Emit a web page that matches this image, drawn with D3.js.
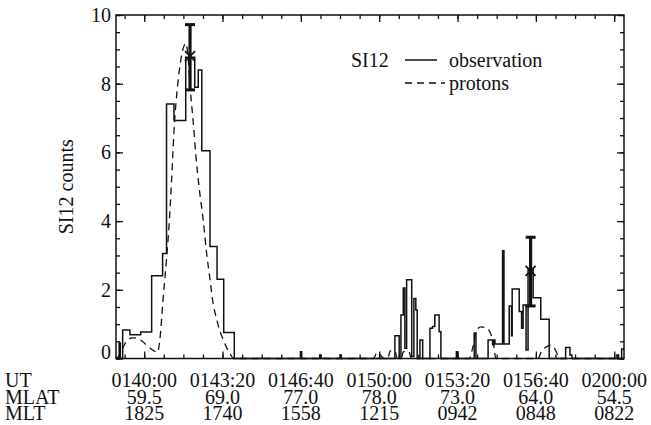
<!DOCTYPE html>
<html>
<head>
<meta charset="utf-8">
<script src="https://cdn.jsdelivr.net/npm/d3@7"></script>
<style>
  body { margin: 0; background: #fff; }
</style>
</head>
<body>
<div id="chart"><svg></svg></div>
<script>
// seconds after 01:40:00 UT
var obsT = [-72, -64, -61, -55, -36.5, -9, 19, 47, 57, 76, 106, 129, 138, 147, 168, 186, 203, 230,
    399, 402, 448, 451, 500, 503,
    640, 651, 655.5, 661.5, 665.5, 670, 683, 688.5, 693.5, 697, 704, 711, 729.5, 736, 742, 753, 757.5,
    797, 800, 842.5, 847, 878, 889.5, 893, 895.5, 915, 918.5, 932, 938, 939.5, 957.5, 963.5, 967.5,
    975, 980, 993, 1012.5, 1034, 1076, 1087, 1092, 1207, 1211, 1219, 1225];
var obsV = [0, 0.45, 0, 0.83, 0.69, 0.77, 2.41, 3.06, 7.41, 6.93, 8.77, 7.9, 8.4, 6.05, 3.26, 2.31, 0.76, 0,
    0.2, 0, 0.1, 0, 0.1, 0,
    0.66, 0, 1.27, 2.05, 0.3, 2.29, 0.06, 1.75, 1.41, 0, 0.54, 0, 0.88, 0.93, 1.27, 0.78, 0,
    0.2, 0, 0.74, 0, 0.54, 0.4, 0.54, 0.42, 3.14, 0.42, 1.53, 0.66, 2.02, 1.37, 0.88, 1.56,
    0.25, 2.58, 1.77, 1.14, 0, 0.32, 0.1, 0, 0.1, 0, 0.28, 0.28];

var protT = [-72, -66, -55, -45, -30, -19, -5, 10, 25, 34, 40, 48, 57, 63, 70, 76, 84, 91, 101, 106, 111,
    118, 125, 132, 140, 151, 159, 168, 176, 185, 193, 200, 210, 220, 228,
    585, 595, 603, 612, 622, 628, 640, 646, 656, 662, 676, 682,
    830, 838.5, 850, 860, 870, 882.5, 892, 898,
    1005, 1015, 1027, 1036, 1046, 1056, 1062, 1225];
var protV = [0, 0.05, 0.3, 0.5, 0.6, 0.6, 0.5, 0.35, 0.22, 0.18, 0.55, 1.7, 2.9, 3.8, 5.2, 6.6, 7.8, 8.5, 9.08, 9.18, 8.9,
    7.8, 6.9, 5.9, 5.0, 4.0, 3.1, 2.3, 1.6, 1.15, 0.8, 0.6, 0.33, 0.12, 0,
    0, 0.18, 0.1, 0, 0, 0.22, 0.22, 0, 0, 0.2, 0.2, 0,
    0, 0.3, 0.85, 0.92, 0.9, 0.78, 0.4, 0,
    0, 0.22, 0.34, 0.38, 0.32, 0.1, 0, 0];

var errT = [117, 986.5];
var errMid = [8.8, 2.55];
var errLo = [7.82, 1.53];
var errHi = [9.72, 3.53];

var tickSec = [0, 200, 400, 600, 800, 1000, 1200];
var utLabels = ["0140:00", "0143:20", "0146:40", "0150:00", "0153:20", "0156:40", "0200:00"];
var mlatLabels = ["59.5", "69.0", "77.0", "78.0", "73.0", "64.0", "54.5"];
var mltLabels = ["1825", "1740", "1558", "1215", "0942", "0848", "0822"];

var FONT = "'Liberation Serif'";
var W = 651, H = 425;
var L = 116, T = 15, R = 27, B = 66.5;

var svg = d3.select("#chart svg").attr("width", W).attr("height", H);

var x = d3.scaleLinear().domain([-72, 1225]).range([L, W - R]);
var y = d3.scaleLinear().domain([0, 10]).range([H - B, T]);

var minorX = d3.range(-50, 1225, 50);
var minorY = d3.range(0, 10.01, 0.5);

function styleAxis(g) {
    g.attr("font-family", null).attr("font-size", null);
    g.select(".domain").remove();
    g.selectAll("line").attr("stroke", "#111").attr("stroke-width", 1.3);
    g.selectAll("text").style("font-family", FONT).style("font-size", "20px").attr("fill", "#111");
}

// x ticks, bottom and top, pointing inward
[[d3.axisBottom, H - B], [d3.axisTop, T]].forEach(function(a) {
    svg.append("g").attr("transform", "translate(0," + a[1] + ")")
        .call(a[0](x).tickValues(minorX).tickSize(-4).tickFormat(""))
        .call(styleAxis);
    svg.append("g").attr("transform", "translate(0," + a[1] + ")")
        .call(a[0](x).tickValues(tickSec).tickSize(-7).tickFormat(""))
        .call(styleAxis);
});

// y ticks left and right
svg.append("g").attr("transform", "translate(" + L + ",0)")
    .call(d3.axisLeft(y).tickValues(minorY).tickSize(-4).tickFormat(""))
    .call(styleAxis);
var gy = svg.append("g").attr("transform", "translate(" + L + ",0)")
    .call(d3.axisLeft(y).tickValues([0, 2, 4, 6, 8, 10]).tickSize(-7).tickPadding(5).tickFormat(d3.format("d")))
    .call(styleAxis);
gy.selectAll("text").filter(function(d) { return d === 0; }).attr("dy", "0.0em");
svg.append("g").attr("transform", "translate(" + (W - R) + ",0)")
    .call(d3.axisRight(y).tickValues(minorY).tickSize(-4).tickFormat(""))
    .call(styleAxis);
svg.append("g").attr("transform", "translate(" + (W - R) + ",0)")
    .call(d3.axisRight(y).tickValues([0, 2, 4, 6, 8, 10]).tickSize(-7).tickFormat(""))
    .call(styleAxis);

// frame
svg.append("rect")
    .attr("x", L).attr("y", T)
    .attr("width", W - R - L).attr("height", H - B - T)
    .attr("fill", "none").attr("stroke", "#111").attr("stroke-width", 1.5);

// data
var obs = obsT.map(function(t, i) { return [t, obsV[i]]; });
var prot = protT.map(function(t, i) { return [t, protV[i]]; });

var stepLine = d3.line()
    .x(function(d) { return x(d[0]); })
    .y(function(d) { return y(d[1]); })
    .curve(d3.curveStepAfter);
var smoothLine = d3.line()
    .x(function(d) { return x(d[0]); })
    .y(function(d) { return y(d[1]); })
    .curve(d3.curveMonotoneX);

svg.append("path").datum(prot)
    .attr("d", smoothLine)
    .attr("fill", "none").attr("stroke", "#111").attr("stroke-width", 1.3)
    .attr("stroke-dasharray", "7,5");
svg.append("path").datum(obs)
    .attr("d", stepLine)
    .attr("fill", "none").attr("stroke", "#111").attr("stroke-width", 1.5);

// error bars
var gErr = svg.append("g").attr("stroke", "#111");
errT.forEach(function(t, i) {
    var cx = x(t);
    gErr.append("line").attr("x1", cx).attr("x2", cx)
        .attr("y1", y(errLo[i])).attr("y2", y(errHi[i])).attr("stroke-width", 3.2);
    [errLo[i], errHi[i]].forEach(function(v) {
        gErr.append("line").attr("x1", cx - 5).attr("x2", cx + 5)
            .attr("y1", y(v)).attr("y2", y(v)).attr("stroke-width", 3);
    });
    var cy = y(errMid[i]);
    gErr.append("path")
        .attr("d", "M" + (cx - 5) + "," + (cy - 5) + "L" + (cx + 5) + "," + (cy + 5) +
            "M" + (cx - 5) + "," + (cy + 5) + "L" + (cx + 5) + "," + (cy - 5))
        .attr("stroke-width", 1.8);
});

// legend
var lg = svg.append("g");
function legendText(tx, ty, s) {
    lg.append("text").attr("x", tx).attr("y", ty).attr("fill", "#111")
        .style("font-family", FONT).style("font-size", "20px").text(s);
}
legendText(351, 67, "SI12");
lg.append("line").attr("x1", 405).attr("x2", 437).attr("y1", 60).attr("y2", 60)
    .attr("stroke", "#111").attr("stroke-width", 1.5);
legendText(449, 67, "observation");
lg.append("line").attr("x1", 405).attr("x2", 445).attr("y1", 83).attr("y2", 83)
    .attr("stroke", "#111").attr("stroke-width", 1.3).attr("stroke-dasharray", "7,5");
legendText(449, 90, "protons");

// y label
svg.append("text")
    .attr("transform", "translate(73," + ((T + H - B) / 2) + ") rotate(-90)")
    .attr("text-anchor", "middle")
    .attr("fill", "#111")
    .style("font-family", FONT)
    .style("font-size", "20px")
    .text("SI12 counts");

// bottom rows
var rows = [["UT", utLabels, 387], ["MLAT", mlatLabels, 403.5], ["MLT", mltLabels, 420]];
rows.forEach(function(r) {
    svg.append("text").attr("x", 5).attr("y", r[2]).attr("fill", "#111")
        .style("font-family", FONT).style("font-size", "20px").text(r[0]);
    svg.selectAll(null).data(r[1]).enter()
        .append("text")
        .attr("x", function(d, i) { return x(tickSec[i]); })
        .attr("y", r[2])
        .attr("text-anchor", "middle")
        .attr("fill", "#111")
        .style("font-family", FONT)
        .style("font-size", "20px")
        .text(function(d) { return d; });
});
</script>
</body>
</html>
